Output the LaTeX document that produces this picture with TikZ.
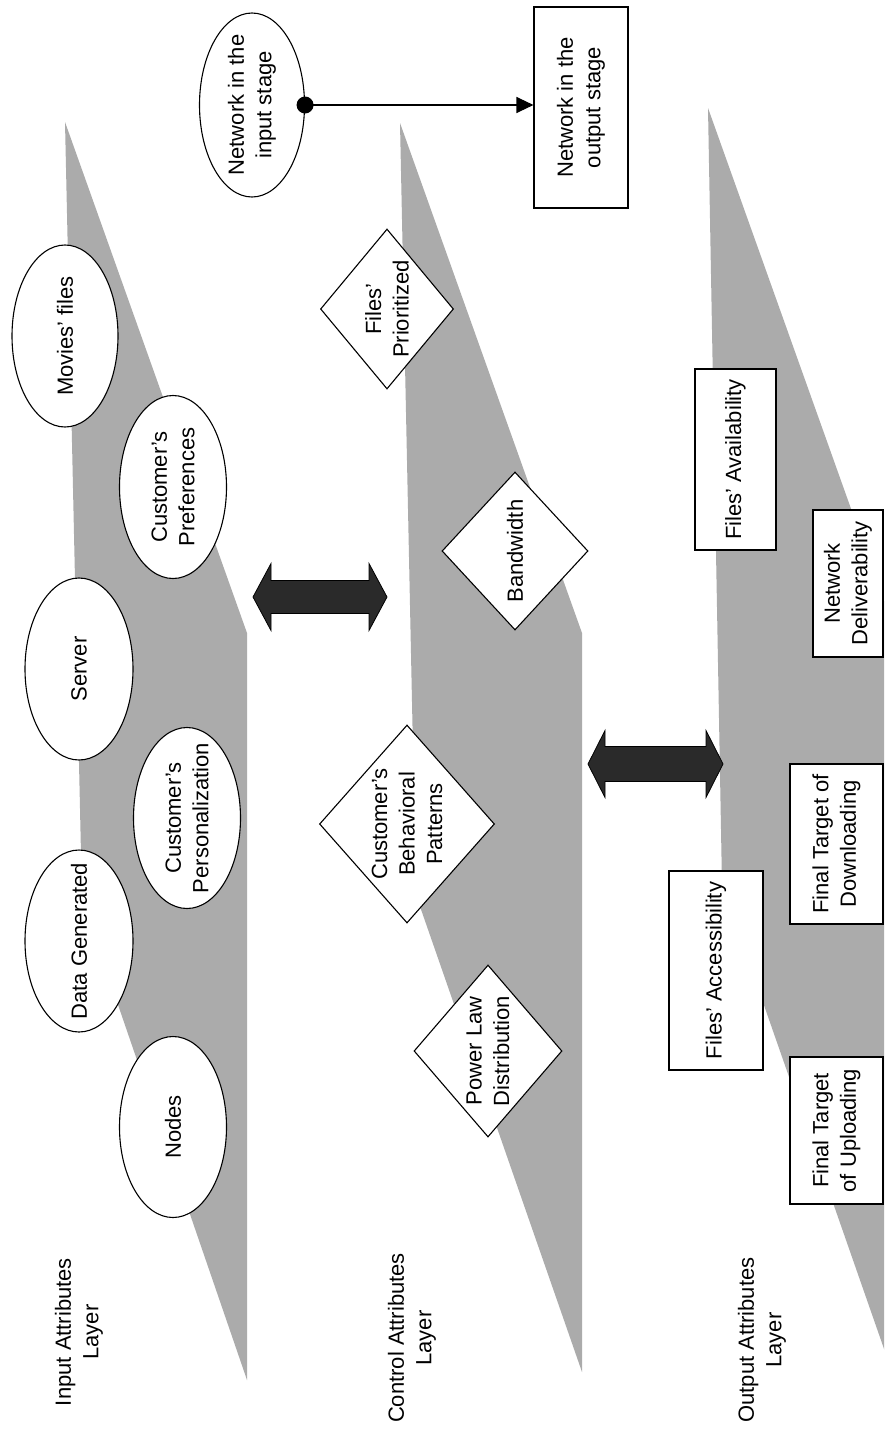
\documentclass[tikz,border=0pt]{standalone}
\usepackage{fontspec}
\setmainfont{Liberation Sans}
\usetikzlibrary{shapes.geometric,arrows.meta}
\definecolor{planegray}{HTML}{ABABAB}
\definecolor{arrowdark}{HTML}{2A2A2A}
\begin{document}
\begin{tikzpicture}[x=1pt,y=-1pt,
  every node/.style={font=\fontsize{22}{27.5}\selectfont},
  plane/.style={fill=planegray,draw=none},
  ell/.style={ellipse,draw,fill=white,line width=1.1pt,inner sep=0pt},
  dia/.style={diamond,draw,fill=white,line width=1.1pt,inner sep=0pt},
  box/.style={rectangle,draw,fill=white,line width=1.1pt,inner sep=0pt},
  txt/.style={rotate=90,align=center,inner sep=0pt},
  blockarrow/.style={fill=arrowdark,draw=black,line width=0.8pt}]
\useasboundingbox (0,0) rectangle (884,1429);
\fill[white] (0,0) rectangle (884,1429);
% planes
\begin{scope}
\clip (0,0) rectangle (884,1429);
\path[plane] (65,122) -- (247,633) -- (247,1380) -- (82,900) -- cycle;
\path[plane] (400,123) -- (582,633) -- (582,1372) -- (416,895) -- cycle;
\path[plane] (708,108) -- (890,618) -- (890,1366) -- (722,885) -- cycle;
\end{scope}
% layer labels
\node[txt] (linput) at (79,1332) {Input Attributes\\Layer};
\node[txt] (lcontrol) at (412,1338) {Control Attributes\\Layer};
\node[txt] (loutput) at (762,1340) {Output Attributes\\Layer};
% ellipses
\node[ell,minimum width=105pt,minimum height=184pt] (netin) at (252,105) {};
\node[txt] (tnetin) at (netin) {Network in the\\input stage};
\node[ell,minimum width=106pt,minimum height=182pt] (movies) at (65,336) {};
\node[txt] (tmovies) at (movies) {Movies’ files};
\node[ell,minimum width=107pt,minimum height=183pt] (custpref) at (173,487) {};
\node[txt] (tcustpref) at (custpref) {Customer’s\\Preferences};
\node[ell,minimum width=108pt,minimum height=182pt] (server) at (79,669) {};
\node[txt] (tserver) at (server) {Server};
\node[ell,minimum width=107pt,minimum height=181pt] (custpers) at (187,818) {};
\node[txt] (tcustpers) at (custpers) {Customer’s\\Personalization};
\node[ell,minimum width=108pt,minimum height=182pt] (datagen) at (79,941) {};
\node[txt] (tdatagen) at (datagen) {Data Generated};
\node[ell,minimum width=107pt,minimum height=181pt] (nodes) at (173,1127) {};
\node[txt] (tnodes) at (nodes) {Nodes};
% diamonds
\node[dia,minimum width=133pt,minimum height=160pt] (filesprio) at (387,309) {};
\node[txt] (tfilesprio) at (filesprio) {Files’\\Prioritized};
\node[dia,minimum width=146pt,minimum height=158pt] (bandwidth) at (515,551) {};
\node[txt] (tbandwidth) at (bandwidth) {Bandwidth};
\node[dia,minimum width=175pt,minimum height=198pt] (behav) at (407,824) {};
\node[txt] (tbehav) at (behav) {Customer’s\\Behavioral\\Patterns};
\node[dia,minimum width=148pt,minimum height=172pt] (powerlaw) at (488,1051) {};
\node[txt] (tpowerlaw) at (powerlaw) {Power Law\\Distribution};
% rectangles
\node[box,minimum width=94pt,minimum height=201pt] (netout) at (581,107.5) {};
\node[txt] (tnetout) at (netout) {Network in the\\output stage};
\node[box,minimum width=81pt,minimum height=181pt] (filesavail) at (735.5,459.5) {};
\node[txt] (tfilesavail) at (filesavail) {Files’ Availability};
\node[box,minimum width=70pt,minimum height=147pt] (netdeliv) at (848,583.5) {};
\node[txt] (tnetdeliv) at (netdeliv) {Network\\Deliverability};
\node[box,minimum width=93pt,minimum height=160pt] (finaldown) at (836.5,844) {};
\node[txt] (tfinaldown) at (finaldown) {Final Target of\\Downloading};
\node[box,minimum width=94pt,minimum height=199pt] (filesaccess) at (716,970.5) {};
\node[txt] (tfilesaccess) at (filesaccess) {Files’ Accessibility};
\node[box,minimum width=93pt,minimum height=147pt] (finalup) at (836.5,1130.5) {};
\node[txt] (tfinalup) at (finalup) {Final Target\\of Uploading};
% connector input stage -> output stage
\draw[line width=1.1pt,-{Triangle[length=17pt,width=16pt]}] (netin.east) -- (netin.east -| netout.west);
\fill (netin.east) circle (8.5pt);
% block double arrows
\draw[blockarrow] (253,597) -- (271,563.5) -- (271,580.5) -- (369,580.5) -- (369,563.5) -- (387,597) -- (369,630.5) -- (369,613.5) -- (271,613.5) -- (271,630.5) -- cycle;
\draw[blockarrow] (588,764) -- (605,730.5) -- (605,746.5) -- (706,746.5) -- (706,730.5) -- (723,764) -- (706,797.5) -- (706,781.5) -- (605,781.5) -- (605,797.5) -- cycle;
\end{tikzpicture}
\end{document}
